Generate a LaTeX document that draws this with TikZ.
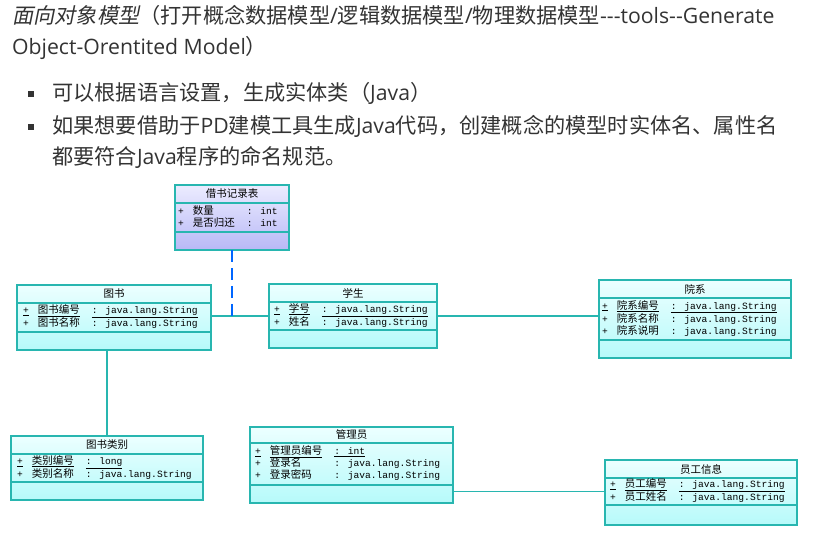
\documentclass[tikz,border=0pt]{standalone}
\usepackage{fontspec}
\usepackage{tikz}
\usetikzlibrary{positioning, fit, backgrounds}
\setmainfont{Noto Sans CJK SC}
\newfontfamily\cnit[FakeSlant=0.2]{Noto Sans CJK SC}
\newfontfamily\lat{Open Sans}
\newfontfamily\monofont{Liberation Mono}
\definecolor{umlteal}{RGB}{40, 182, 176}
\definecolor{umlcyantop}{RGB}{236, 255, 255}
\definecolor{umlcyanbot}{RGB}{182, 250, 250}
\definecolor{umllavtop}{RGB}{236, 236, 255}
\definecolor{umllavbot}{RGB}{184, 184, 246}
\definecolor{linkblue}{RGB}{0, 102, 255}
\definecolor{textgray}{RGB}{51, 51, 51}
\newcommand{\mtxt}[1]{{\monofont\fontsize{9.6}{11}\selectfont #1}}

\begin{document}
\begin{tikzpicture}[
  x=1pt, y=-1pt,
  toptext/.style={anchor=base west, inner sep=0pt, text=textgray, font=\fontsize{21.2}{24}\selectfont},
  bulletsq/.style={rectangle, fill=textgray, minimum size=6.5pt, inner sep=0pt},
  classpart/.style={rectangle, draw=umlteal, line width=1.2pt, inner sep=0pt, outer sep=0pt, minimum height=18, font=\fontsize{10.5}{11}\selectfont},
  attrtext/.style={inner sep=0pt, anchor=west, align=left, font=\fontsize{10.5}{11}\selectfont},
  cyanfill/.style={inner sep=0pt, outer sep=0pt, top color=umlcyantop, bottom color=umlcyanbot},
  lavfill/.style={inner sep=0pt, outer sep=0pt, top color=umllavtop, bottom color=umllavbot},
  assoc/.style={draw=umlteal, line width=1.4pt},
  linkdash/.style={draw=linkblue, line width=1.8pt, dash pattern=on 12pt off 6pt}
]
\useasboundingbox (0,0) rectangle (830,534);

% Heading text
\node[toptext] (title1) at (12,24) {{\cnit 面向对象模型}（打开概念数据模型{\lat /}逻辑数据模型{\lat /}物理数据模型{\lat -{}-{}-tools-{}-Generate}};
\node[toptext] (title2) at (12,55) {{\lat Object-Orentited Model}）};
\node[bulletsq] (dot1) at (31,94) {};
\node[toptext] (item1) at (52,101) {可以根据语言设置，生成实体类（{\lat Java}）};
\node[bulletsq] (dot2) at (31,127) {};
\node[toptext] (item2) at (52,134) {如果想要借助于{\lat PD}建模工具生成{\lat Java}代码，创建概念的模型时实体名、属性名};
\node[toptext] (item3) at (52,165) {都要符合{\lat Java}程序的命名规范。};

% Borrow record
\node[classpart, minimum width=114, anchor=north west] (jieshu) at (175,185) {借书记录表};
\node[classpart, minimum width=114, minimum height=29, below=0pt of jieshu] (jieshu-attr) {};
\node[classpart, minimum width=114, below=0pt of jieshu-attr] (jieshu-op) {};
\node[attrtext, right=3pt of jieshu-attr.west] (jieshu-list) {\begin{tabular}{@{}l@{\hspace{9pt}}l@{\hspace{12pt}}l@{}}
\mtxt{+} & 数量 & \mtxt{: int}\\
\mtxt{+} & 是否归还 & \mtxt{: int}
\end{tabular}};

% Book
\node[classpart, minimum width=194, anchor=north west] (tushu) at (17,285) {图书};
\node[classpart, minimum width=194, minimum height=29, below=0pt of tushu] (tushu-attr) {};
\node[classpart, minimum width=194, below=0pt of tushu-attr] (tushu-op) {};
\node[attrtext, right=6pt of tushu-attr.west] (tushu-list) {\begin{tabular}{@{}l@{\hspace{9pt}}l@{\hspace{12pt}}l@{}}
\underline{\mtxt{+}} & \underline{图书编号} & \underline{\mtxt{: java.lang.String}}\\
\mtxt{+} & 图书名称 & \mtxt{: java.lang.String}
\end{tabular}};

% Student
\node[classpart, minimum width=168, anchor=north west] (xuesheng) at (269,284) {学生};
\node[classpart, minimum width=168, minimum height=28, below=0pt of xuesheng] (xuesheng-attr) {};
\node[classpart, minimum width=168, below=0pt of xuesheng-attr] (xuesheng-op) {};
\node[attrtext, right=5pt of xuesheng-attr.west] (xuesheng-list) {\begin{tabular}{@{}l@{\hspace{9pt}}l@{\hspace{12pt}}l@{}}
\underline{\mtxt{+}} & \underline{学号} & \underline{\mtxt{: java.lang.String}}\\
\mtxt{+} & 姓名 & \mtxt{: java.lang.String}
\end{tabular}};

% Department
\node[classpart, minimum width=192, anchor=north west] (yuanxi) at (599,280) {院系};
\node[classpart, minimum width=192, minimum height=42, below=0pt of yuanxi] (yuanxi-attr) {};
\node[classpart, minimum width=192, below=0pt of yuanxi-attr] (yuanxi-op) {};
\node[attrtext, right=3pt of yuanxi-attr.west] (yuanxi-list) {\begin{tabular}{@{}l@{\hspace{9pt}}l@{\hspace{12pt}}l@{}}
\underline{\mtxt{+}} & \underline{院系编号} & \underline{\mtxt{: java.lang.String}}\\
\mtxt{+} & 院系名称 & \mtxt{: java.lang.String}\\
\mtxt{+} & 院系说明 & \mtxt{: java.lang.String}
\end{tabular}};

% Book category
\node[classpart, minimum width=192, anchor=north west] (leibie) at (11,436) {图书类别};
\node[classpart, minimum width=192, minimum height=28, below=0pt of leibie] (leibie-attr) {};
\node[classpart, minimum width=192, below=0pt of leibie-attr] (leibie-op) {};
\node[attrtext, right=6pt of leibie-attr.west] (leibie-list) {\begin{tabular}{@{}l@{\hspace{9pt}}l@{\hspace{12pt}}l@{}}
\underline{\mtxt{+}} & \underline{类别编号} & \underline{\mtxt{: long}}\\
\mtxt{+} & 类别名称 & \mtxt{: java.lang.String}
\end{tabular}};

% Administrator
\node[classpart, minimum width=203, minimum height=16, anchor=north west] (guanli) at (250,427) {管理员};
\node[classpart, minimum width=203, minimum height=42, below=0pt of guanli] (guanli-attr) {};
\node[classpart, minimum width=203, below=0pt of guanli-attr] (guanli-op) {};
\node[attrtext, right=5pt of guanli-attr.west] (guanli-list) {\begin{tabular}{@{}l@{\hspace{9pt}}l@{\hspace{12pt}}l@{}}
\underline{\mtxt{+}} & \underline{管理员编号} & \underline{\mtxt{: int}}\\
\mtxt{+} & 登录名 & \mtxt{: java.lang.String}\\
\mtxt{+} & 登录密码 & \mtxt{: java.lang.String}
\end{tabular}};

% Staff info
\node[classpart, minimum width=192, anchor=north west] (yuangong) at (605,460) {员工信息};
\node[classpart, minimum width=192, minimum height=27, below=0pt of yuangong] (yuangong-attr) {};
\node[classpart, minimum width=192, minimum height=20, below=0pt of yuangong-attr] (yuangong-op) {};
\node[attrtext, right=5pt of yuangong-attr.west] (yuangong-list) {\begin{tabular}{@{}l@{\hspace{9pt}}l@{\hspace{12pt}}l@{}}
\underline{\mtxt{+}} & \underline{员工编号} & \underline{\mtxt{: java.lang.String}}\\
\mtxt{+} & 员工姓名 & \mtxt{: java.lang.String}
\end{tabular}};

% Fills
\begin{scope}[on background layer]
  \node[lavfill, fit=(jieshu) (jieshu-op)] (jieshu-bg) {};
  \node[cyanfill, fit=(tushu) (tushu-op)] (tushu-bg) {};
  \node[cyanfill, fit=(xuesheng) (xuesheng-op)] (xuesheng-bg) {};
  \node[cyanfill, fit=(yuanxi) (yuanxi-op)] (yuanxi-bg) {};
  \node[cyanfill, fit=(leibie) (leibie-op)] (leibie-bg) {};
  \node[cyanfill, fit=(guanli) (guanli-op)] (guanli-bg) {};
  \node[cyanfill, fit=(yuangong) (yuangong-op)] (yuangong-bg) {};
\end{scope}

% Associations
\draw[assoc] (tushu-attr.east |- xuesheng-attr.west) -- (xuesheng-attr.west);
\draw[assoc] (xuesheng-attr.east) -- (yuanxi-attr.west |- xuesheng-attr.east);
\draw[assoc] (leibie.north) -- (leibie.north |- tushu-op.south);
\draw[assoc] (guanli-op.east |- yuangong-attr.west) -- (yuangong-attr.west);

% Link to association
\draw[linkdash] (jieshu-op.south) -- (jieshu-op.south |- xuesheng-attr.west);

\end{tikzpicture}
\end{document}
